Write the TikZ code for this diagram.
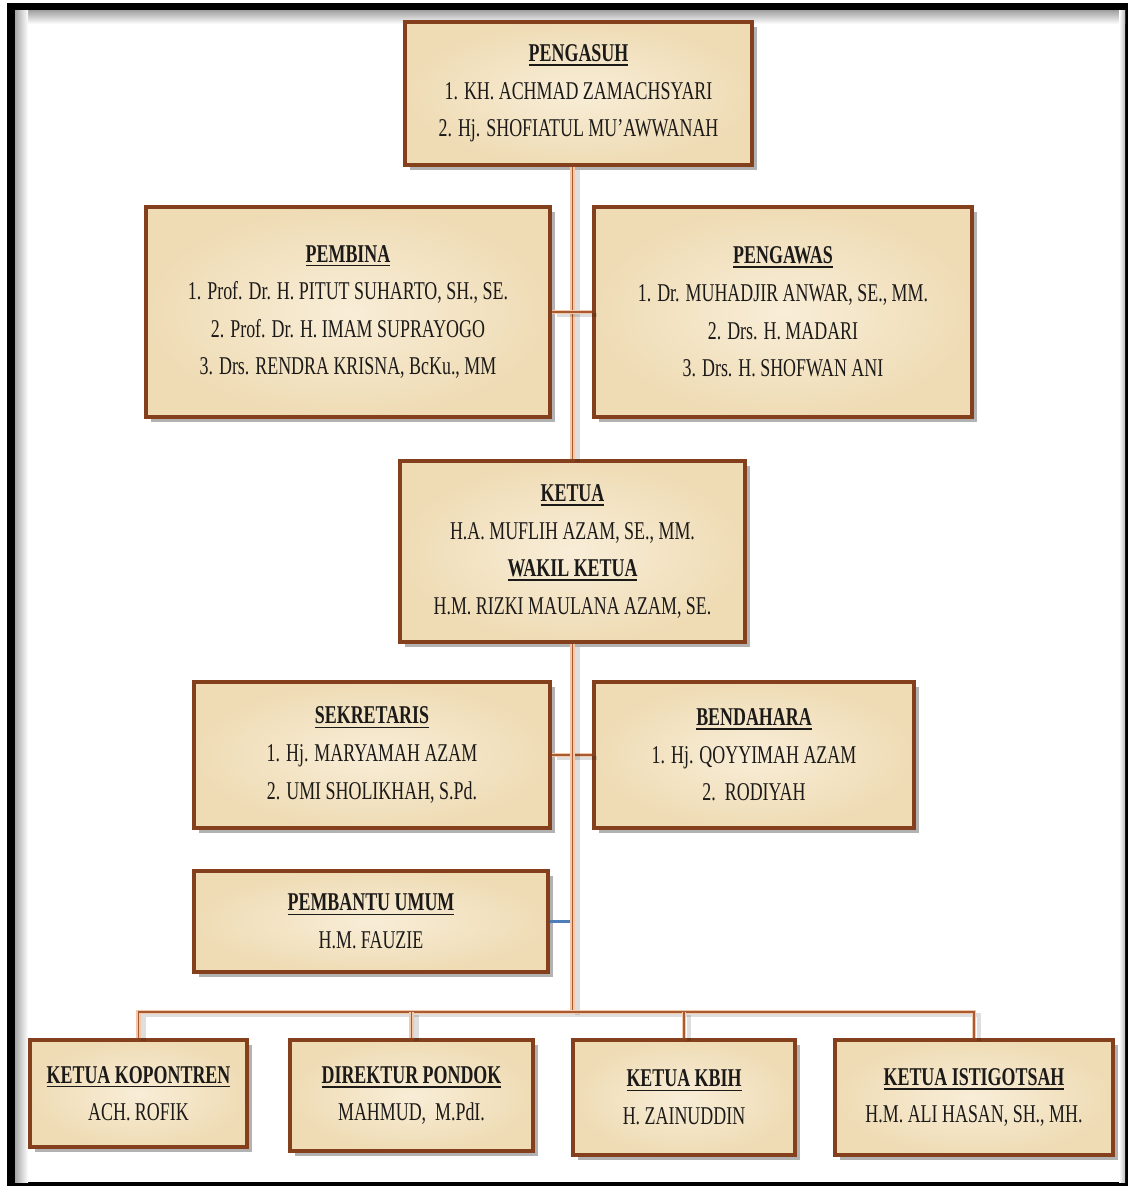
\documentclass[tikz,border=0pt]{standalone}
\usepackage{fontspec}
\setmainfont{Liberation Serif}[FakeStretch=0.70]
\usetikzlibrary{shadows,calc}
\definecolor{boxfill}{HTML}{F4E5C4}
\definecolor{boxin}{HTML}{F8EDD7}
\definecolor{boxout}{HTML}{EFDCB5}
\definecolor{boxedge}{HTML}{84401D}
\definecolor{connlight}{HTML}{F2C8A8}
\definecolor{conndark}{HTML}{A85A33}
\definecolor{bluel}{HTML}{4F7DBA}
\definecolor{txt}{HTML}{1C1A18}
\newcommand\hd[1]{\textbf{\setbox0\hbox{#1}\rlap{\rule[-2.2pt]{\wd0}{0.9pt}}\box0}}
\newcommand\orgbox[6]{\node[orgnode, minimum width={(#4-#2)*0.5pt}, minimum height={(#5-#3)*0.5pt}] (#1) at ({(#2+#4)/2},{(#3+#5)/2}) {#6};}
\begin{document}
\begin{tikzpicture}[x=0.5pt,y=-0.5pt,
  orgnode/.style={draw=boxedge, line width=1.7pt, inner color=boxin, outer color=boxout, inner sep=0pt, align=center,
    text=txt, font=\fontsize{12.8pt}{18.8pt}\selectfont,
    drop shadow={shadow xshift=2.5pt, shadow yshift=-2.5pt, opacity=0.3, fill=black}},
  conn/.style={preaction={draw=black, opacity=0.13, line width=2.4pt, transform canvas={shift={(2.5pt,-1.5pt)}}},
    draw=connlight, double=conndark, double distance=0.8pt, line width=0.7pt},
  bluecon/.style={draw=bluel, line width=1.5pt}]
\useasboundingbox (0,0) rectangle (1128,1186);
% frame
\fill[white] (0,0) rectangle (1128,1186);
\fill[black] (7,3) rectangle (1128,1186);
\fill[white] (15,11) rectangle (1125,1182);
\shade[top color=black!35, bottom color=white] (15,11) rectangle (1125,24);
\shade[left color=black!35, right color=white] (15,11) rectangle (28,1182);
\shade[left color=white, right color=black!25] (1119,11) rectangle (1125,1182);

% boxes
\orgbox{peng}{405}{22}{752}{165}{\hd{PENGASUH}\\1. KH. ACHMAD ZAMACHSYARI\\2. Hj. SHOFIATUL MU’AWWANAH}
\orgbox{pemb}{146}{207}{550}{417}{\hd{PEMBINA}\\1. Prof. Dr. H. PITUT SUHARTO, SH., SE.\\2. Prof. Dr. H. IMAM SUPRAYOGO\\3. Drs. RENDRA KRISNA, BcKu., MM}
\orgbox{pengw}{594}{207}{972}{417}{\hd{PENGAWAS}\\1. Dr. MUHADJIR ANWAR, SE., MM.\\2. Drs. H. MADARI\\3. Drs. H. SHOFWAN ANI}
\orgbox{ketua}{400}{461}{745}{642}{\hd{KETUA}\\H.A. MUFLIH AZAM, SE., MM.\\\hd{WAKIL KETUA}\\H.M. RIZKI MAULANA AZAM, SE.}
\orgbox{sek}{194}{682}{550}{828}{\hd{SEKRETARIS}\\1. Hj. MARYAMAH AZAM\\2. UMI SHOLIKHAH, S.Pd.}
\orgbox{bend}{594}{682}{914}{828}{\hd{BENDAHARA}\\1. Hj. QOYYIMAH AZAM\\2.\ \ RODIYAH}
\orgbox{pu}{194}{871}{548}{972}{\hd{PEMBANTU UMUM}\\H.M. FAUZIE}
\orgbox{kop}{30}{1040}{247}{1147}{\hd{KETUA KOPONTREN}\\ACH. ROFIK}
\orgbox{dir}{290}{1040}{533}{1151}{\hd{DIREKTUR PONDOK}\\MAHMUD,\ \ M.PdI.}
\orgbox{kbih}{573}{1040}{795}{1155}{\hd{KETUA KBIH}\\H. ZAINUDDIN}
\orgbox{ist}{835}{1040}{1113}{1155}{\hd{KETUA ISTIGOTSAH}\\H.M. ALI HASAN, SH., MH.}

\coordinate (bus) at (572.5,1012);

% connectors
\draw[bluecon] (pu.east) -- (pu.east -| bus);
\draw[conn] (peng.south -| ketua.north) -- (ketua.north);
\draw[conn] (pemb.east) -- (pengw.west);
\draw[conn] (sek.east) -- (bend.west);
\draw[conn] (ketua.south) -- (bus);
\draw[conn] (kop.north) |- (bus) -| (ist.north);
\draw[conn] (dir.north) -- (dir.north |- bus);
\draw[conn] (kbih.north) -- (kbih.north |- bus);
\end{tikzpicture}
\end{document}
